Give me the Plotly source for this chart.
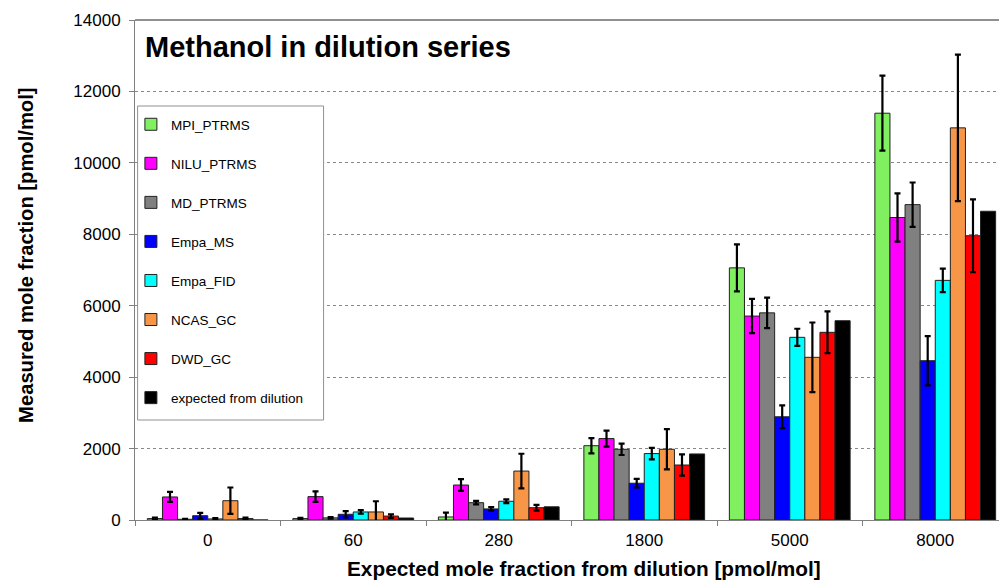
import plotly.graph_objects as go

categories = ["0", "60", "280", "1800", "5000", "8000"]
series_names = ["MPI_PTRMS", "NILU_PTRMS", "MD_PTRMS", "Empa_MS", "Empa_FID",
                "NCAS_GC", "DWD_GC", "expected from dilution"]
colors = ["#80F060", "#FF00FF", "#808080", "#0000FF", "#00FFFF",
          "#F79646", "#FF0000", "#000000"]

mpi_ptrms = [40, 40, 85, 2080, 7060, 11390]
nilu_ptrms = [645, 655, 980, 2280, 5710, 8470]
md_ptrms = [20, 60, 485, 1980, 5800, 8830]
empa_ms = [120, 160, 310, 1030, 2890, 4460]
empa_fid = [30, 225, 525, 1860, 5115, 6710]
ncas_gc = [540, 225, 1370, 1980, 4555, 10980]
dwd_gc = [40, 110, 345, 1540, 5255, 7960]
expected = [0, 56, 370, 1850, 5580, 8645]

mpi_err = [30, 20, 120, 215, 660, 1050]
nilu_err = [140, 145, 165, 225, 480, 675]
md_err = [10, 20, 50, 160, 425, 620]
ms_err = [80, 90, 50, 120, 320, 690]
fid_err = [20, 50, 50, 160, 240, 330]
ncas_err = [370, 300, 485, 565, 975, 2050]
dwd_err = [30, 50, 80, 300, 585, 1020]
exp_err = [0, 0, 0, 0, 0, 0]

values = [mpi_ptrms, nilu_ptrms, md_ptrms, empa_ms, empa_fid, ncas_gc, dwd_gc, expected]
errors = [mpi_err, nilu_err, md_err, ms_err, fid_err, ncas_err, dwd_err, exp_err]

y_ticks = [0, 2000, 4000, 6000, 8000, 10000, 12000, 14000]
y_tick_labels = ["0", "2000", "4000", "6000", "8000", "10000", "12000", "14000"]

x_title = "Expected mole fraction from dilution [pmol/mol]"
y_title = "Measured mole fraction [pmol/mol]"
chart_title = "Methanol in dilution series"

fig = go.Figure()
for name, col, vals, errs in zip(series_names, colors, values, errors):
    show_err = any(e > 0 for e in errs)
    fig.add_trace(go.Bar(
        x=categories, y=vals, name=name, legendgroup=name,
        marker=dict(color=col, line=dict(color="#222222", width=1)),
        error_y=dict(type="data", array=errs, visible=show_err,
                     color="#000000", thickness=2.2, width=3),
    ))

FONT = "Liberation Sans, Arial, sans-serif"

fig.update_layout(
    width=1007, height=584,
    margin=dict(l=127, r=7, t=12, b=72, autoexpand=False),
    paper_bgcolor="white", plot_bgcolor="white",
    barmode="group", bargap=0.17, bargroupgap=0,
    font=dict(family=FONT, color="#000000"),
    showlegend=True,
    legend=dict(x=-0.0047, y=0.822, xanchor="left", yanchor="top",
                bgcolor="rgba(0,0,0,0)", borderwidth=0,
                font=dict(size=13.5, family=FONT),
                tracegroupgap=18.5, traceorder="grouped"),
    xaxis=dict(
        type="category", tickson="boundaries", ticks="outside", ticklen=5,
        tickcolor="#808080", showline=True, linecolor="#808080", linewidth=1,
        showgrid=False, tickfont=dict(size=17, family=FONT), automargin=False,
        ticklabelstandoff=5,
    ),
    yaxis=dict(
        range=[0, 14000], tickvals=y_ticks, ticktext=y_tick_labels,
        ticks="outside", ticklen=5, ticklabelstandoff=5,
        tickcolor="#808080", showline=True, linecolor="#808080", linewidth=1,
        showgrid=True, gridcolor="#888888", griddash="dot", gridwidth=1,
        zeroline=False, tickfont=dict(size=17, family=FONT), automargin=False,
    ),
    shapes=[
        dict(type="line", xref="paper", yref="paper", x0=0, x1=1, y0=1, y1=1,
             line=dict(color="#909090", width=2)),
        dict(type="rect", xref="paper", yref="paper", x0=0.003, x1=0.216,
             y0=0.2, y1=0.828, line=dict(color="#909090", width=1),
             fillcolor="white", layer="above"),
    ],
    annotations=[
        dict(text="<b>" + chart_title + "</b>", xref="paper", yref="paper",
             x=0.009, y=0.946, xanchor="left", yanchor="middle", showarrow=False,
             font=dict(size=29, family=FONT, color="#000000")),
        dict(text="<b>" + x_title + "</b>", xref="paper", yref="paper",
             x=0.514, y=-0.096, xanchor="center", yanchor="middle", showarrow=False,
             font=dict(size=20.8, family=FONT, color="#000000")),
        dict(text="<b>" + y_title + "</b>", xref="paper", yref="paper",
             x=-0.125, y=0.53, xanchor="center", yanchor="middle", showarrow=False,
             textangle=-90, font=dict(size=20.2, family=FONT, color="#000000")),
    ],
)

fig.write_html("out.html")
